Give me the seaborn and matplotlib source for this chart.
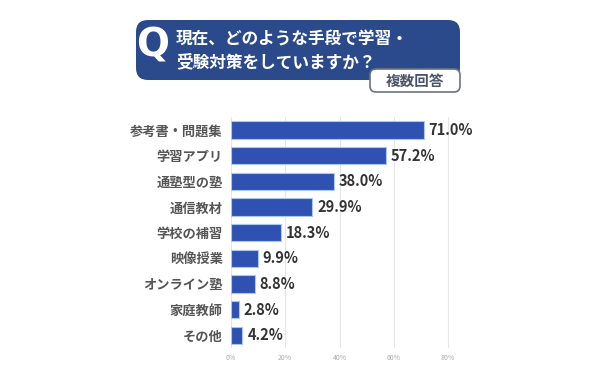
import matplotlib
matplotlib.use("Agg")
import matplotlib.pyplot as plt
import seaborn as sns
import pandas as pd
from matplotlib.patches import FancyBboxPatch

categories = ["参考書・問題集", "学習アプリ", "通塾型の塾", "通信教材", "学校の補習",
              "映像授業", "オンライン塾", "家庭教師", "その他"]
values = [71.0, 57.2, 38.0, 29.9, 18.3, 9.9, 8.8, 2.8, 4.2]
xticks = [0, 20, 40, 60, 80]
title_lines = ["現在、どのような手段で学習・", "受験対策をしていますか？"]
badge = "複数回答"

sns.set_theme(style="white")
plt.rcParams['font.family'] = ['Noto Sans CJK JP', 'DejaVu Sans']

df = pd.DataFrame({"cat": categories, "val": values})

fig = plt.figure(figsize=(6, 3.78), dpi=100)
ax = fig.add_axes([0.385, 0.079, 0.407, 0.611])

bar_color = "#2f51b2"
sns.barplot(data=df, y="cat", x="val", ax=ax, color=bar_color, width=0.68,
            edgecolor="#a9c8ee", linewidth=0.8, saturation=1)

ax.set_xlim(0, 90)
ax.set_xticks(xticks)
ax.set_xticklabels([f"{t}%" for t in xticks], fontsize=5, color="#aaaaaa")
ax.xaxis.grid(True, color="#e6e6e6", linewidth=0.8)
ax.set_axisbelow(True)
ax.set_xlabel("")
ax.set_ylabel("")
ax.tick_params(axis="y", labelsize=9.5, labelcolor="#555555", length=0, pad=6)
ax.tick_params(axis="x", length=0, pad=4)
for lbl in ax.get_yticklabels():
    lbl.set_fontweight("bold")
for s in ax.spines.values():
    s.set_visible(False)

for i, v in enumerate(values):
    ax.text(v + 1.8, i, f"{v:.1f}%", va="center", ha="left", fontsize=10.5,
            fontweight="bold", color="#333333")

# header box
hdr = FancyBboxPatch((136/600, 1 - 80/378), (460-136)/600, (80-20)/378,
                     boxstyle="round,pad=0,rounding_size=0.02",
                     transform=fig.transFigure, facecolor="#2b4a8c",
                     edgecolor="none", mutation_aspect=1.587)
fig.patches.append(hdr)
fig.text(153/600, 1 - 46/378, "Q", fontsize=28, fontweight="bold", color="white",
         ha="center", va="center", family="DejaVu Sans")
fig.text(176/600, 1 - 40/378, title_lines[0], fontsize=12, fontweight="bold",
         color="white", ha="left", va="center")
fig.text(176/600, 1 - 62/378, title_lines[1], fontsize=12, fontweight="bold",
         color="white", ha="left", va="center")

bdg = FancyBboxPatch((370/600, 1 - 92/378), (460-370)/600, (92-69)/378,
                     boxstyle="round,pad=0,rounding_size=0.01",
                     transform=fig.transFigure, facecolor="white",
                     edgecolor="#6b7280", linewidth=1.2, mutation_aspect=1.587)
fig.patches.append(bdg)
fig.text(415/600, 1 - 80.5/378, badge, fontsize=10.5, fontweight="bold",
         color="#4a5568", ha="center", va="center")

fig.savefig("out.png", dpi=100)
